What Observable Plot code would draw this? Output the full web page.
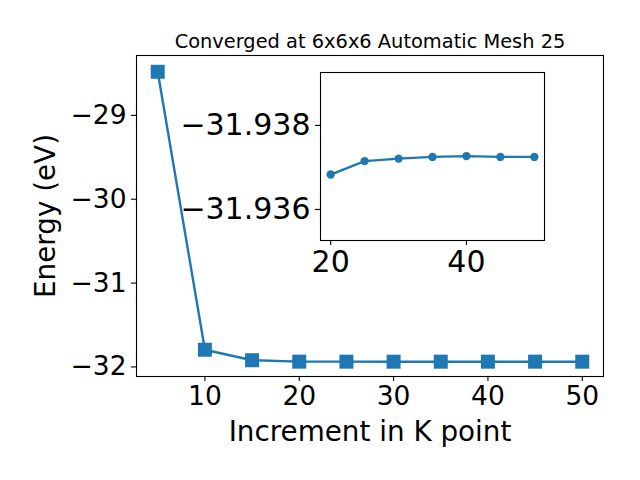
<!DOCTYPE html>
<html><head><meta charset="utf-8">
<script src="https://cdn.jsdelivr.net/npm/d3@7"></script>
<script src="https://cdn.jsdelivr.net/npm/@observablehq/plot@0.6"></script>
<style>
body{margin:0;background:white}
#wrap{position:relative;width:640px;height:480px;overflow:hidden}
#wrap svg{display:block}
#inset{position:absolute;left:160px;top:60px}
</style>
</head><body><div id="wrap"></div>
<script>
// ---- data ----
const kpoints = [5, 10, 15, 20, 25, 30, 35, 40, 45, 50];
const energies = [-28.48, -31.795, -31.92, -31.93683, -31.93715, -31.93721, -31.93725, -31.93727, -31.93725, -31.93725];
const insetK = [20, 25, 30, 35, 40, 45, 50];
const insetE = [-31.93683, -31.93715, -31.93721, -31.93725, -31.93727, -31.93725, -31.93725];
const mainXTicks = [10, 20, 30, 40, 50];
const mainYTicks = [-29, -30, -31, -32];
const insetXTicks = [20, 40];
const insetYTicks = [-31.938, -31.936];
const titleText = "Converged at 6x6x6 Automatic Mesh 25";
const xLabel = "Increment in K point";
const yLabel = "Energy (eV)";

const blue = "#1f77b4";
const font = "DejaVu Sans, sans-serif";
const mainData = kpoints.map((k, i) => ({k, e: energies[i]}));
const insetData = insetK.map((k, i) => ({k, e: insetE[i]}));

const main = Plot.plot({
  width: 640, height: 480,
  marginLeft: 136, marginRight: 37, marginTop: 55, marginBottom: 104,
  style: {fontFamily: font, background: "white", color: "black"},
  x: {domain: [2.75, 52.25]},
  y: {domain: [-32.114, -28.286]},
  marks: [
    Plot.line(mainData, {x: "k", y: "e", stroke: blue, strokeWidth: 2.4}),
    Plot.dot(mainData, {x: "k", y: "e", symbol: "square", r: 7.9, fill: blue, stroke: "none"}),
    Plot.frame({stroke: "black", strokeWidth: 1.1}),
    Plot.axisX({ticks: mainXTicks, tickFormat: d3.format("d"), tickSize: 5, tickPadding: 5, fontSize: 26.5, label: null, strokeWidth: 1.1}),
    Plot.axisY({ticks: mainYTicks, tickFormat: d3.format("d"), tickSize: 5, tickPadding: 5, fontSize: 26.5, label: null, strokeWidth: 1.1}),
    Plot.text([titleText], {frameAnchor: "top", lineAnchor: "bottom", dy: -7.5, fontSize: 19.4, fill: "black"}),
    Plot.text([xLabel], {frameAnchor: "bottom", lineAnchor: "bottom", dy: 64, fontSize: 27.8, fill: "black"}),
    Plot.text([yLabel], {frameAnchor: "left", textAnchor: "middle", lineAnchor: "bottom", rotate: -90, dx: -82, fontSize: 27.8, fill: "black"})
  ]
});

const inset = Plot.plot({
  width: 400, height: 230,
  marginLeft: 160, marginRight: 16, marginTop: 12, marginBottom: 50,
  style: {fontFamily: font, background: "transparent", color: "black", overflow: "visible"},
  x: {domain: [18.5, 51.5]},
  y: {domain: [-31.93526, -31.93926]},
  marks: [
    Plot.frame({fill: "white"}),
    Plot.line(insetData, {x: "k", y: "e", stroke: blue, strokeWidth: 2.4}),
    Plot.dot(insetData, {x: "k", y: "e", r: 4.2, fill: blue, stroke: "none"}),
    Plot.frame({stroke: "black", strokeWidth: 1.1}),
    Plot.axisX({ticks: insetXTicks, tickFormat: d3.format("d"), tickSize: 5, tickPadding: 5, fontSize: 30, label: null, strokeWidth: 1.1}),
    Plot.axisY({ticks: insetYTicks, tickFormat: d3.format(".3f"), tickSize: 5, tickPadding: 5, fontSize: 30, label: null, strokeWidth: 1.1})
  ]
});
inset.id = "inset";

const wrap = document.getElementById("wrap");
wrap.appendChild(main);
wrap.appendChild(inset);
</script>
</body></html>
